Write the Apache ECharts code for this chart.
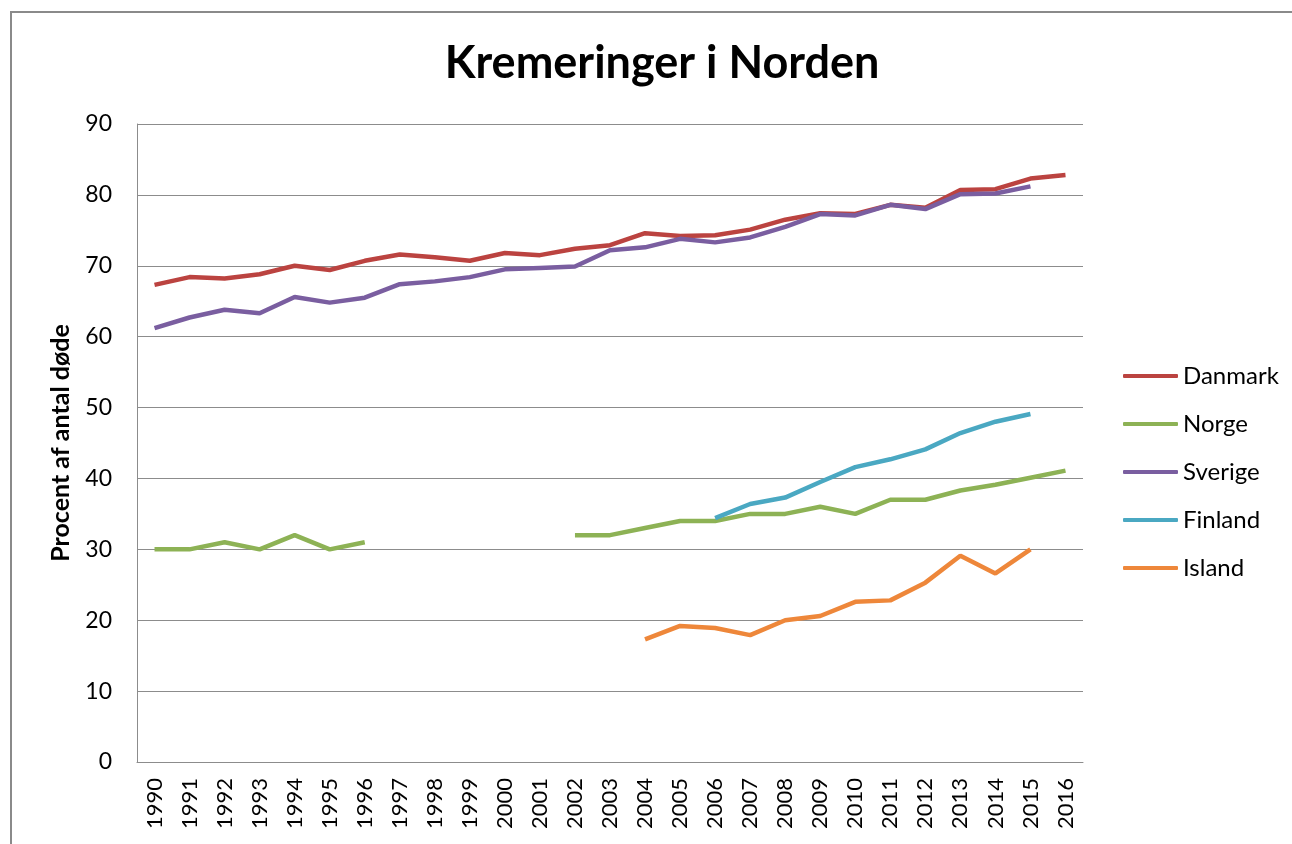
<!DOCTYPE html>
<html>
<head>
<meta charset="utf-8">
<script src="https://cdn.jsdelivr.net/npm/echarts@6/dist/echarts.min.js"></script>
<style>
html,body{margin:0;padding:0;background:#fff;}
#chart{width:1292px;height:844px;}
</style>
</head>
<body>
<div id="chart"></div>
<script>
const years = ['1990','1991','1992','1993','1994','1995','1996','1997','1998','1999','2000','2001','2002','2003','2004','2005','2006','2007','2008','2009','2010','2011','2012','2013','2014','2015','2016'];
const danmark = [67.3,68.4,68.2,68.8,70.0,69.4,70.7,71.6,71.2,70.7,71.8,71.5,72.4,72.9,74.6,74.2,74.3,75.1,76.5,77.4,77.3,78.6,78.2,80.7,80.8,82.3,82.8];
const norge = [30,30,31,30,32,30,31,null,null,null,null,null,32,32,33,34,34,35,35,36,35,37,37,38.3,39.1,40.1,41.1];
const sverige = [61.2,62.7,63.8,63.3,65.6,64.8,65.5,67.4,67.8,68.4,69.5,69.7,69.9,72.2,72.6,73.8,73.3,74.0,75.5,77.3,77.1,78.6,78.0,80.1,80.2,81.2,null];
const finland = [null,null,null,null,null,null,null,null,null,null,null,null,null,null,null,null,34.4,36.4,37.3,39.5,41.6,42.7,44.1,46.4,48.0,49.1,null];
const island = [null,null,null,null,null,null,null,null,null,null,null,null,null,null,17.3,19.2,18.9,17.9,20.0,20.6,22.6,22.8,25.3,29.1,26.6,30.0,null];
const seriesNames = ['Danmark','Norge','Sverige','Finland','Island'];
const colors = ['#BB4340','#8DB255','#7A5EA0','#4AA8C2','#EE873A'];

const font = 'Lato, "Open Sans", sans-serif';
const chart = echarts.init(document.getElementById('chart'), null, {renderer:'canvas'});
const dataArr = [danmark, norge, sverige, finland, island];
chart.setOption({
  animation:false,
  backgroundColor:'#fff',
  title:{
    text:'Kremeringer i Norden',
    left:657, top:36, textAlign:'center',
    textStyle:{fontFamily:font, fontWeight:'bold', fontSize:45, color:'#000'}
  },
  graphic:[{type:'rect', shape:{x:11,y:12,width:1300,height:900}, style:{fill:null, stroke:'#8a8a8a', lineWidth:2}, silent:true}],
  legend:{
    orient:'vertical', left:1118, top:358,
    itemWidth:55, itemHeight:4, itemGap:22, icon:'roundRect',
    textStyle:{fontFamily:font, fontSize:24, color:'#000', lineHeight:26},
    data:seriesNames
  },
  grid:{left:137, right:209, top:124, bottom:82, containLabel:false},
  xAxis:{
    type:'category', data:years, boundaryGap:true,
    axisLine:{lineStyle:{color:'#8c8c8c', width:1}},
    axisTick:{show:false},
    axisLabel:{rotate:90, interval:0, fontFamily:font, fontSize:22, color:'#000', margin:16}
  },
  yAxis:{
    type:'value', min:0, max:90, interval:10,
    name:'Procent af antal døde', nameLocation:'middle', nameGap:64,
    nameTextStyle:{fontFamily:font, fontSize:25, fontWeight:'bold', color:'#000'},
    axisLine:{show:true, lineStyle:{color:'#8c8c8c', width:1}},
    axisTick:{show:false},
    splitLine:{lineStyle:{color:'#8c8c8c', width:1}},
    axisLabel:{fontFamily:font, fontSize:23, color:'#000', margin:25}
  },
  series: seriesNames.map((n,i)=>({
    name:n, type:'line', data:dataArr[i], showSymbol:false, symbol:'none',
    connectNulls:false, color:colors[i],
    lineStyle:{width:4.5, color:colors[i]}
  }))
});
</script>
</body>
</html>
